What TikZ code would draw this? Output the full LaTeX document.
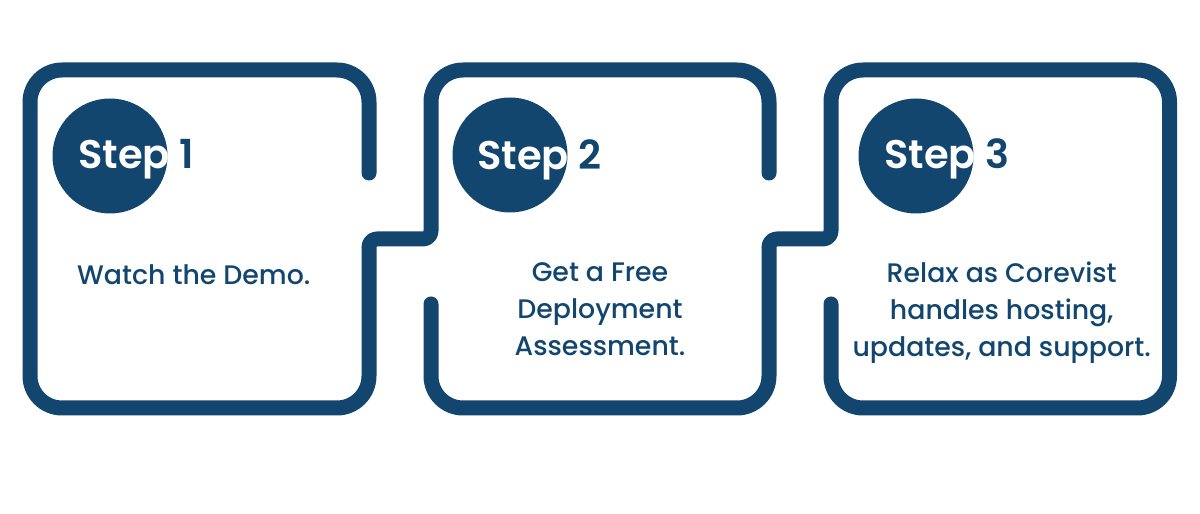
\documentclass[tikz,border=0pt]{standalone}
\usepackage{fontspec}
\setmainfont{Poppins}
\newfontfamily\stepfont{Poppins SemiBold}
\newfontfamily\bodyfont{Poppins Medium}
\definecolor{navy}{HTML}{12466F}
\begin{document}
\begin{tikzpicture}[x=1pt,y=1pt,
  frame/.style={draw=navy,line width=15pt,line cap=round,line join=round},
  badge/.style={circle,fill=navy,minimum size=115pt,inner sep=0pt},
  steplabel/.style={anchor=base west,inner sep=0pt,font=\stepfont\fontsize{40}{48}\selectfont},
  bodyline/.style={anchor=base,inner sep=0pt,text=navy,font=\bodyfont\fontsize{26.8}{37}\selectfont}]
\fill[white] (0,0) rectangle (1200,514);
\useasboundingbox (0,0) rectangle (1200,514);
% frames
\coordinate (a1) at (369,341);
\coordinate (a2) at (769,341);
\coordinate (b1) at (431,210);
\coordinate (b2) at (831,210);
\draw[frame] (a1) -- (369,412) arc[start angle=0,end angle=90,radius=32]
  -- (62,444) arc[start angle=90,end angle=180,radius=32]
  -- (30,138) arc[start angle=180,end angle=270,radius=32]
  -- (337,106) arc[start angle=270,end angle=360,radius=32]
  -- (369,267) arc[start angle=180,end angle=90,radius=8]
  -- (423,275) arc[start angle=270,end angle=360,radius=8]
  -- (431,412) arc[start angle=180,end angle=90,radius=32]
  -- (737,444) arc[start angle=90,end angle=0,radius=32]
  -- (a2);
\draw[frame] (b1) -- (431,138) arc[start angle=180,end angle=270,radius=32]
  -- (737,106) arc[start angle=270,end angle=360,radius=32]
  -- (769,267) arc[start angle=180,end angle=90,radius=8]
  -- (823,275) arc[start angle=270,end angle=360,radius=8]
  -- (831,412) arc[start angle=180,end angle=90,radius=32]
  -- (1137.5,444) arc[start angle=90,end angle=0,radius=32]
  -- (1169.5,138) arc[start angle=0,end angle=-90,radius=32]
  -- (863,106) arc[start angle=270,end angle=180,radius=32]
  -- (b2);
% badges
\node[badge] (c1) at (110,358) {};
\node[badge] (c2) at (510,359) {};
\node[badge] (c3) at (916,358) {};
\node[steplabel] (s1) at (78,345) {\textcolor{white}{Step}\ \textcolor{navy}{1}};
\node[steplabel] (s2) at (477,344) {\textcolor{white}{Step}\ \textcolor{navy}{2}};
\node[steplabel] (s3) at (884,345) {\textcolor{white}{Step}\ \textcolor{navy}{3}};
% texts
\node[bodyline,anchor=base west] (t1) at (77,229.7) {Watch the Demo.};
\node[bodyline] (t2a) at (600,232.3) {Get a Free};
\node[bodyline] (t2b) at (600,195) {Deployment};
\node[bodyline] (t2c) at (600,158.3) {Assessment.};
\node[bodyline] (t3a) at (1001.7,231) {Relax as Corevist};
\node[bodyline] (t3b) at (1001.7,194) {handles hosting,};
\node[bodyline] (t3c) at (1001.7,157.3) {updates, and support.};
\end{tikzpicture}
\end{document}
